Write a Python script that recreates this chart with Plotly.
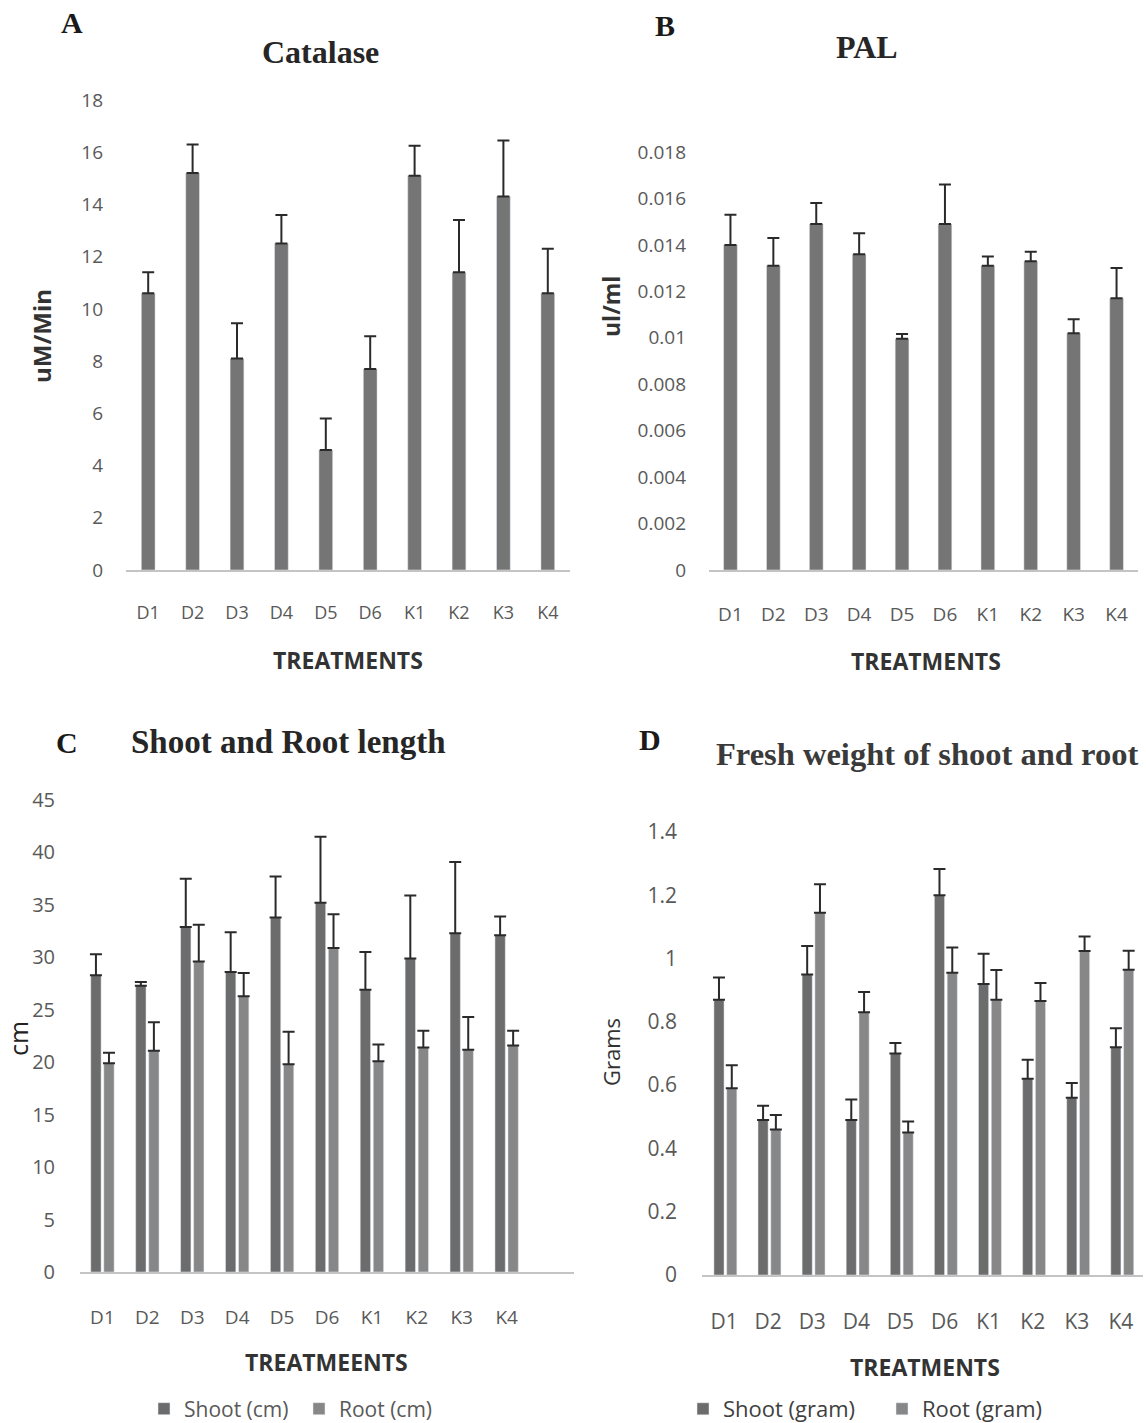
import plotly.graph_objects as go

W, H = 1146, 1423

# ---------------- data ----------------
treatments = ["D1", "D2", "D3", "D4", "D5", "D6", "K1", "K2", "K3", "K4"]

catalase = [10.6, 15.2, 8.1, 12.5, 4.6, 7.7, 15.1, 11.4, 14.3, 10.6]
catalase_err = [0.8, 1.1, 1.35, 1.1, 1.2, 1.25, 1.15, 2.0, 2.15, 1.7]

pal = [0.0140, 0.0131, 0.0149, 0.0136, 0.00996, 0.0149, 0.0131, 0.0133, 0.0102, 0.0117]
pal_err = [0.0013, 0.0012, 0.0009, 0.0009, 0.0002, 0.0017, 0.0004, 0.0004, 0.0006, 0.0013]

shoot_len = [28.3, 27.3, 32.9, 28.6, 33.8, 35.2, 26.9, 29.9, 32.3, 32.1]
shoot_len_err = [2.0, 0.35, 4.6, 3.8, 3.9, 6.3, 3.6, 6.0, 6.8, 1.8]
root_len = [19.9, 21.1, 29.6, 26.3, 19.8, 30.9, 20.1, 21.4, 21.2, 21.6]
root_len_err = [1.0, 2.7, 3.5, 2.2, 3.1, 3.2, 1.6, 1.6, 3.1, 1.4]

shoot_wt = [0.87, 0.49, 0.95, 0.49, 0.70, 1.20, 0.92, 0.62, 0.56, 0.72]
shoot_wt_err = [0.07, 0.045, 0.09, 0.065, 0.033, 0.083, 0.095, 0.06, 0.047, 0.06]
root_wt = [0.59, 0.46, 1.145, 0.83, 0.45, 0.955, 0.87, 0.866, 1.024, 0.965]
root_wt_err = [0.073, 0.046, 0.09, 0.064, 0.035, 0.08, 0.094, 0.057, 0.046, 0.06]

pal_ticks = [0, 0.002, 0.004, 0.006, 0.008, 0.01, 0.012, 0.014, 0.016, 0.018]
pal_ticktext = ["0", "0.002", "0.004", "0.006", "0.008", "0.01", "0.012", "0.014", "0.016", "0.018"]
wt_ticks = [0, 0.2, 0.4, 0.6, 0.8, 1.0, 1.2, 1.4]
wt_ticktext = ["0", "0.2", "0.4", "0.6", "0.8", "1", "1.2", "1.4"]

# ---------------- styles ----------------
BAR_A = "#757575"
BAR_SHOOT = "#6c6c6c"
BAR_ROOT = "#878787"
ERR = "#2a2a2a"
TICK = "#595959"
SANS = "Open Sans"
SERIF = "Liberation Serif"


def px(x):
    return x / W


def py(y):
    return 1 - y / H


def err(arr):
    return dict(type="data", array=arr, arrayminus=[0] * len(arr), symmetric=False,
                color=ERR, thickness=2, width=6)


fig = go.Figure()

# A: Catalase
fig.add_trace(go.Bar(x=treatments, y=catalase, error_y=err(catalase_err), marker_color=BAR_A,
                     width=0.31, xaxis="x", yaxis="y", showlegend=False))
# B: PAL
fig.add_trace(go.Bar(x=treatments, y=pal, error_y=err(pal_err), marker_color=BAR_A,
                     width=0.32, xaxis="x2", yaxis="y2", showlegend=False))
# C: lengths
fig.add_trace(go.Bar(x=treatments, y=shoot_len, error_y=err(shoot_len_err), marker_color=BAR_SHOOT,
                     width=0.23, offset=-0.26, xaxis="x3", yaxis="y3", name="Shoot (cm)",
                     legend="legend"))
fig.add_trace(go.Bar(x=treatments, y=root_len, error_y=err(root_len_err), marker_color=BAR_ROOT,
                     width=0.23, offset=0.03, xaxis="x3", yaxis="y3", name="Root (cm)",
                     legend="legend"))
# D: weights
fig.add_trace(go.Bar(x=treatments, y=shoot_wt, error_y=err(shoot_wt_err), marker_color=BAR_SHOOT,
                     width=0.23, offset=-0.23, xaxis="x4", yaxis="y4", name="Shoot (gram)",
                     legend="legend2"))
fig.add_trace(go.Bar(x=treatments, y=root_wt, error_y=err(root_wt_err), marker_color=BAR_ROOT,
                     width=0.23, offset=0.06, xaxis="x4", yaxis="y4", name="Root (gram)",
                     legend="legend2"))


def xaxis(domain, anchor, size, standoff, rng):
    return dict(domain=domain, anchor=anchor, type="category", categoryorder="array",
                categoryarray=treatments, range=rng, showline=True, linecolor="#c4c4c4",
                linewidth=1.5, ticks="", showgrid=False, zeroline=False,
                tickfont=dict(family=SANS, size=size, color=TICK), ticklabelstandoff=standoff)


def yaxis(domain, anchor, rng, size, standoff, **kw):
    d = dict(domain=domain, anchor=anchor, range=rng, showline=False, showgrid=False,
             zeroline=False, ticks="", tickfont=dict(family=SANS, size=size, color=TICK),
             ticklabelstandoff=standoff)
    d.update(kw)
    return d


layout = dict(
    width=W, height=H, margin=dict(l=0, r=0, t=0, b=0, autoexpand=False),
    paper_bgcolor="white", plot_bgcolor="white", barmode="overlay",
    xaxis=xaxis([px(126), px(570)], "y", 18, 26, [-0.5, 9.5]),
    yaxis=yaxis([py(570), py(100)], "x", [0, 18], 19, 22, dtick=2),
    xaxis2=xaxis([px(709), px(1138)], "y2", 19, 26, [-0.5, 9.5]),
    yaxis2=yaxis([py(570), py(152)], "x2", [0, 0.018], 19, 22, tickvals=pal_ticks, ticktext=pal_ticktext),
    xaxis3=xaxis([px(80), px(574)], "y3", 19, 27, [-0.5, 10.5]),
    yaxis3=yaxis([py(1272), py(800)], "x3", [0, 45], 20, 24, dtick=5),
    xaxis4=xaxis([px(702), px(1143)], "y4", 21, 27, [-0.5, 9.5]),
    yaxis4=yaxis([py(1275), py(832)], "x4", [0, 1.4], 21, 24, tickvals=wt_ticks, ticktext=wt_ticktext),
    legend=dict(orientation="h", x=px(144), y=py(1409), xanchor="left", yanchor="middle",
                font=dict(family=SANS, size=21, color=TICK), entrywidth=110,
                bgcolor="rgba(0,0,0,0)"),
    legend2=dict(orientation="h", x=px(683), y=py(1409), xanchor="left", yanchor="middle",
                 font=dict(family=SANS, size=22, color="#404040"), entrywidth=154,
                 bgcolor="rgba(0,0,0,0)"),
)
fig.update_layout(**layout)

annots = [
    # panel letters
    ("A", 72, 22, SERIF, 30, "#1a1a1a", True, 0),
    ("B", 665, 26, SERIF, 30, "#1a1a1a", True, 0),
    ("C", 67, 742, SERIF, 30, "#1a1a1a", True, 0),
    ("D", 650, 739, SERIF, 30, "#1a1a1a", True, 0),
    # titles
    ("Catalase", 320, 52, SERIF, 32, "#262626", True, 0),
    ("PAL", 867, 47, SERIF, 32, "#262626", True, 0),
    ("Shoot and Root length", 288, 742, SERIF, 33, "#262626", True, 0),
    ("Fresh weight of shoot and root", 927, 754, SERIF, 32.5, "#3a3a3a", True, 0),
    # x titles
    ("TREATMENTS", 348, 660, SANS, 23, "#333333", True, 0),
    ("TREATMENTS", 926, 661, SANS, 23, "#333333", True, 0),
    ("TREATMEENTS", 326, 1362, SANS, 23, "#333333", True, 0),
    ("TREATMENTS", 925, 1367, SANS, 23, "#333333", True, 0),
    # y titles
    ("uM/Min", 42, 336, SANS, 24, "#333333", True, -90),
    ("ul/ml", 611, 307, SANS, 23, "#333333", True, -90),
    ("cm", 18, 1039, SANS, 25, "#222222", False, -90),
    ("Grams", 611, 1052, SANS, 22, "#333333", False, -90),
]
for text, x, y, fam, size, col, bold, ang in annots:
    fig.add_annotation(text=f"<b>{text}</b>" if bold else text, x=px(x), y=py(y),
                       xref="paper", yref="paper", xanchor="center", yanchor="middle",
                       showarrow=False, textangle=ang,
                       font=dict(family=fam, size=size, color=col))

fig.write_html("out.html", config={"displayModeBar": False},
               post_script="document.body.style.margin='0';document.body.style.overflow='hidden';")
